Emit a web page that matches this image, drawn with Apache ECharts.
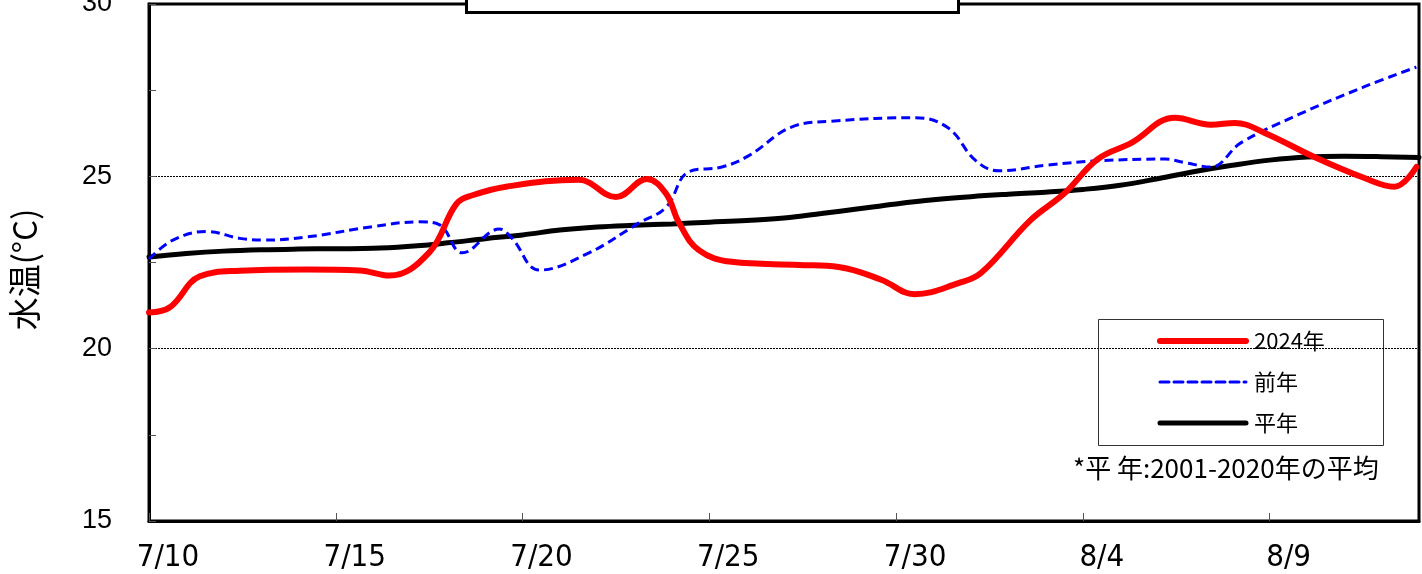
<!DOCTYPE html>
<html>
<head>
<meta charset="utf-8">
<script src="https://cdn.jsdelivr.net/npm/echarts@6/dist/echarts.min.js"></script>
<style>
html,body{margin:0;padding:0;background:#fff;}
#chart{width:1422px;height:574px;}
</style>
</head>
<body>
<div id="chart"></div>
<script>
// x values are days after 7/10
const dateLabels = ['7/10','7/15','7/20','7/25','7/30','8/4','8/9'];
const yTickLabels = [15, 20, 25, 30];

const redDays  = [0,0.56,1.36,2.43,4.22,5.64,6.44,7.51,8.23,8.66,9.56,11.5,12.5,13.33,13.84,14.19,14.72,15.6,17.4,18.46,19.6,20.5,21.67,22.28,23.6,24.5,25.4,26.3,27.46,28.43,29.07,29.87,31.2,32.54,33.34,33.93];
const redTemps = [21.05,21.2,22.1,22.26,22.3,22.27,22.12,22.8,24.2,24.45,24.7,24.9,24.4,24.92,24.5,23.65,22.86,22.52,22.43,22.37,22.0,21.58,21.9,22.2,23.73,24.5,25.5,25.97,26.7,26.5,26.55,26.26,25.56,24.95,24.7,25.27];

const prevDays  = [0,0.64,1.55,2.43,3.05,4.22,5.98,7.24,7.77,8.39,9.38,9.72,10.45,11.78,13.12,13.84,14.45,15.34,16.06,17.2,18.27,20.52,21.4,22.12,22.74,24.07,25.4,27.2,27.73,28.43,29.23,30.75,32.54,33.93];
const prevTemps = [22.6,23.15,23.4,23.2,23.15,23.24,23.54,23.68,23.6,22.78,23.47,23.2,22.28,22.78,23.65,24.1,25.13,25.27,25.6,26.43,26.6,26.7,26.4,25.47,25.16,25.33,25.45,25.5,25.4,25.27,25.97,26.78,27.6,28.17];

const normDays  = [0,1,2,3,4,5,6,7,8,9,10,11,12,13,14,15,16,17,18,19,20,21,22,23,24,25,26,27,28,29,30,31,32,33,34];
const normTemps = [22.66,22.76,22.83,22.87,22.89,22.9,22.91,22.97,23.07,23.19,23.3,23.44,23.53,23.58,23.62,23.67,23.72,23.79,23.92,24.06,24.2,24.32,24.41,24.48,24.54,24.62,24.74,24.93,25.14,25.32,25.47,25.56,25.58,25.57,25.55];

const seriesNames = ['2024年','前年','平年'];
const yTitle = '水温(°C)';
const footnote = '*平 年:2001-2020年の平均';

function pairs(xs, ys){ return xs.map((x,i)=>[x, ys[i]]); }

const chart = echarts.init(document.getElementById('chart'));
const cjk = "'Noto Sans CJK JP', sans-serif";
const narrow = "'DejaVu Sans Condensed', 'Liberation Sans Narrow', 'Noto Sans CJK JP', sans-serif";

chart.setOption({
  animation:false,
  backgroundColor:'#fff',
  grid:{left:149, right:3, top:4, bottom:53, show:true, borderColor:'#000', borderWidth:3,
        backgroundColor:'transparent', containLabel:false, outerBoundsMode:'none'},
  xAxis:{
    type:'value', min:0, max:34, interval:5,
    axisLine:{show:true, lineStyle:{color:'#000', width:3}},
    axisTick:{show:true, inside:true, length:8, lineStyle:{color:'#555', width:1}},
    splitLine:{show:false},
    axisLabel:{
      showMaxLabel:false,
      formatter: v => (v % 5 === 0 && dateLabels[v/5] !== undefined) ? dateLabels[v/5] : '',
      fontFamily: narrow, fontSize:31, color:'#000', margin:21,
      padding:[0,0,0,38]
    }
  },
  yAxis:{
    type:'value', min:15, max:30, interval:5,
    name: yTitle, nameLocation:'middle', nameRotate:90, nameGap:108,
    nameTextStyle:{fontFamily:cjk, fontSize:33, color:'#000', padding:[0,14,0,0]},
    axisLine:{show:true, lineStyle:{color:'#000', width:3}},
    axisTick:{show:true, inside:true, length:7, lineStyle:{color:'#555', width:1}},
    minorTick:{show:true, splitNumber:2, length:7, lineStyle:{color:'#555', width:1}},
    splitLine:{show:true, lineStyle:{color:'#000', width:1, type:[2,1]}},
    axisLabel:{
      formatter: v => yTickLabels.indexOf(v) >= 0 ? String(v) : '',
      fontFamily:"'Liberation Sans', Arial, sans-serif", fontSize:27, color:'#000', margin:37
    }
  },
  legend:{
    orient:'vertical', left:1157, top:330, padding:0, itemWidth:86, itemHeight:20, itemGap:19,
    itemStyle:{color:'rgba(0,0,0,0)', borderColor:'rgba(0,0,0,0)', borderWidth:0, opacity:0},
    lineStyle:{width:'inherit', type:'inherit', cap:'round'},
    textStyle:{fontFamily:cjk, fontSize:22, color:'#000', padding:[0,0,0,3]},
    data:seriesNames
  },
  series:[
    {name:seriesNames[2], type:'line', smooth:0.4, showSymbol:false, symbol:'none',
     data:pairs(normDays, normTemps), lineStyle:{color:'#000', width:5, cap:'round'}, itemStyle:{color:'#000'}},
    {name:seriesNames[1], type:'line', smooth:0.4, showSymbol:false, symbol:'none',
     data:pairs(prevDays, prevTemps), lineStyle:{color:'#0000ff', width:3, type:[9,5]}, itemStyle:{color:'#0000ff'}},
    {name:seriesNames[0], type:'line', smooth:0.4, showSymbol:false, symbol:'none',
     data:pairs(redDays, redTemps), lineStyle:{color:'#ff0000', width:6, cap:'round'}, itemStyle:{color:'#ff0000'}}
  ],
  graphic:[
    {type:'rect', left:1098, top:319, shape:{width:285, height:126}, style:{fill:'#fff', stroke:'#333', lineWidth:1}, z:-1, silent:true},
    {type:'rect', left:465, top:-10, shape:{width:492, height:21}, style:{fill:'#fff', stroke:'#000', lineWidth:3}, z:100, silent:true},
    {type:'text', left:1073, top:455, style:{text:footnote, font:"26px 'Noto Sans CJK JP'", fill:'#000'}, z:100}
  ]
});
</script>
</body>
</html>
